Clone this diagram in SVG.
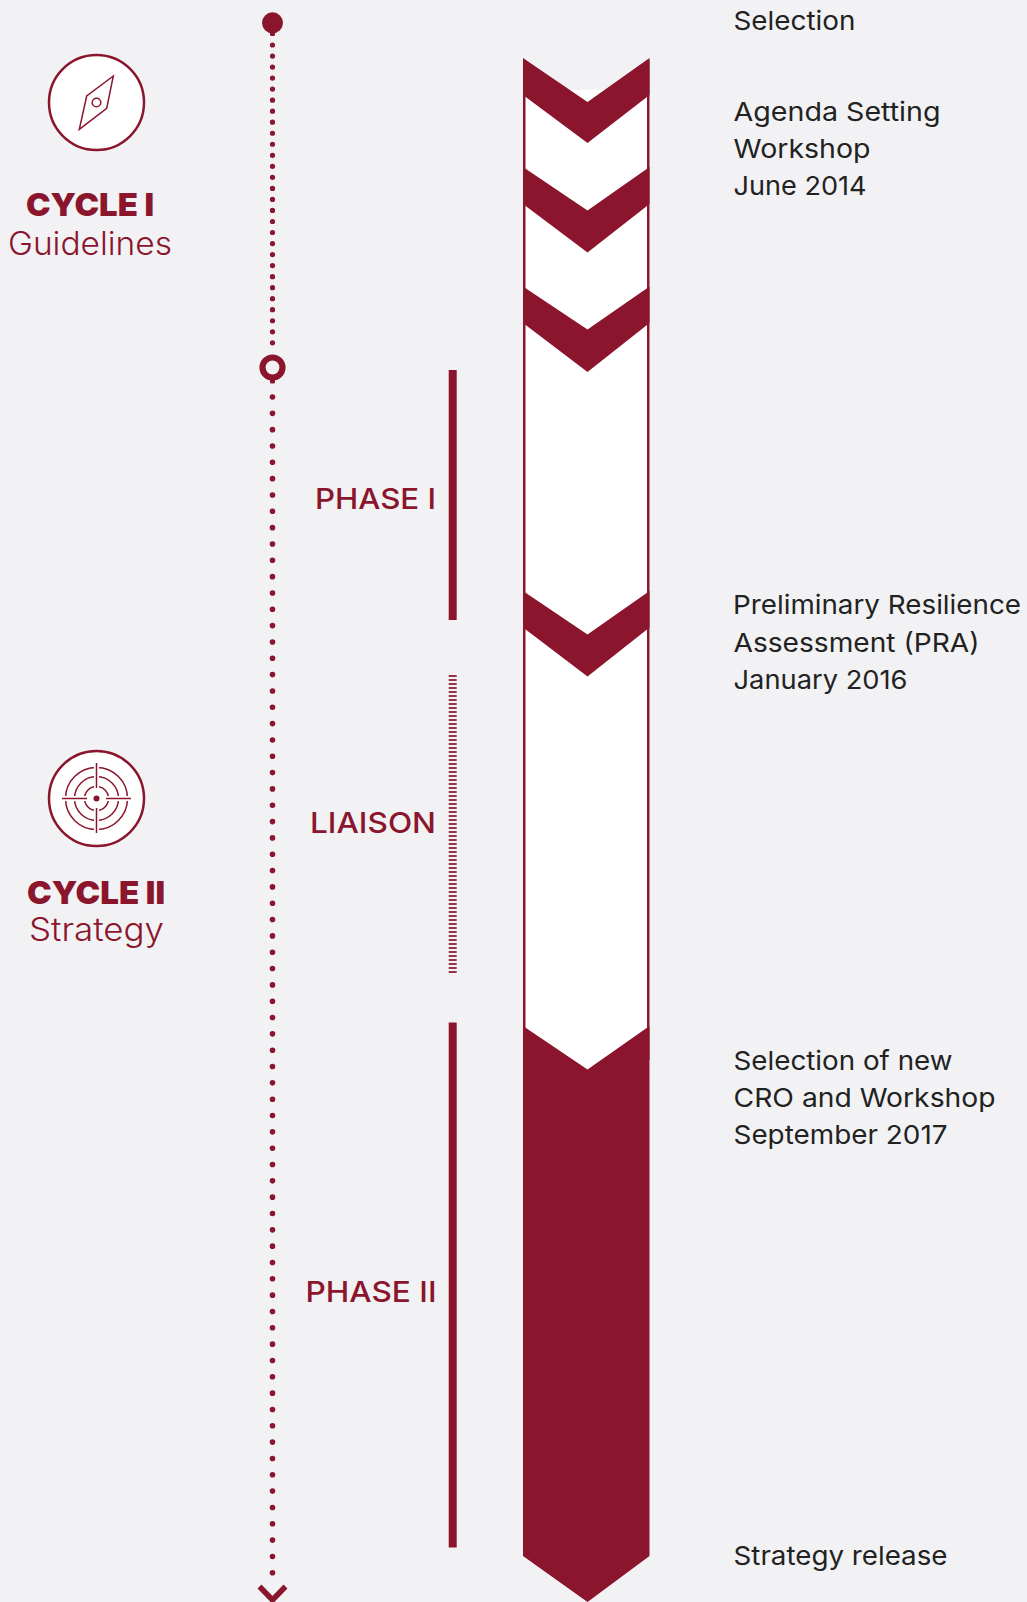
<svg xmlns="http://www.w3.org/2000/svg" width="1027" height="1602" viewBox="0 0 1027 1602">
<style>
.c{fill:#8a152d}
text{font-family:"Inter","Liberation Sans",sans-serif}
.t{fill:#222;font-size:26px}
.r{fill:#8a152d}
.ic{fill:#fff;stroke:#8a152d;stroke-width:2.500}
.ln{fill:none;stroke:#8a152d;stroke-width:1.500}
</style>
<rect width="1027" height="1602" fill="#f2f2f4"/>
<g id="timeline">
<line x1="272.500" y1="45" x2="272.500" y2="344" stroke="#8a152d" stroke-width="5.200" stroke-linecap="round" stroke-dasharray="0 11.030"/>
<line x1="272.500" y1="397" x2="272.500" y2="1589" stroke="#8a152d" stroke-width="5.600" stroke-linecap="round" stroke-dasharray="0 16.330"/>
<circle class="c" cx="272.500" cy="22.800" r="10.500"/>
<rect class="c" x="270" y="30" width="5" height="6" rx="1.500"/>
<circle cx="272.500" cy="367.500" r="10" fill="none" stroke="#8a152d" stroke-width="6.200"/>
<rect class="c" x="270" y="378" width="5" height="5.500" rx="1.500"/>
<polyline points="259.500,1586.500 272.500,1600 285.500,1586.500" fill="none" stroke="#8a152d" stroke-width="5.500"/>
</g>
<g id="bar">
<rect x="523" y="90" width="126.500" height="985" fill="#fff"/>
<rect class="c" x="523" y="60" width="2.500" height="1000"/>
<rect class="c" x="647" y="60" width="2.500" height="1000"/>
<path id="chevron-1" class="c" d="M523 58L587.500 102L649.500 58V95L587.500 143L523 95Z"/>
<path id="chevron-2" class="c" d="M523 167L587.500 210.500L649.500 167V204L587.500 252.500L523 204Z"/>
<path id="chevron-3" class="c" d="M523 286.500L587.500 329.500L649.500 286.500V323L587.500 372L523 323Z"/>
<path id="chevron-4" class="c" d="M523 591L587.500 634.500L649.500 591V627.500L587.500 676.500L523 627.500Z"/>
<path id="bar-end" class="c" d="M523 1026L587.500 1069.500L649.500 1026V1556L587.500 1602L523 1556Z"/>
</g>
<g id="phases">
<rect class="c" x="448.700" y="370" width="8" height="250"/>
<line x1="452.700" y1="675" x2="452.700" y2="973" stroke="#8a152d" stroke-width="8" stroke-dasharray="2 2" opacity=".85"/>
<rect class="c" x="448.700" y="1022.500" width="8" height="525"/>
</g>
<g id="cycle-1">
<circle class="ic" cx="96.500" cy="102.500" r="47.500"/>
<path class="ln" d="M113.300 76L86.700 96L79.300 129.300L106.700 108.300Z"/>
<circle class="ln" cx="96.500" cy="102.500" r="4.300"/>
<text class="r" x="26" y="216" font-size="32" font-weight="900" textLength="128" lengthAdjust="spacingAndGlyphs">CYCLE I</text>
<text class="r" x="8" y="254.500" font-size="32" font-weight="300" textLength="164" lengthAdjust="spacingAndGlyphs">Guidelines</text>
</g>
<g id="cycle-2">
<circle class="ic" cx="96.500" cy="798.500" r="47.500"/>
<circle class="ln" cx="96.500" cy="798.500" r="31"/>
<circle class="ln" cx="96.500" cy="798.500" r="22"/>
<circle class="ln" cx="96.500" cy="798.500" r="12"/>
<path d="M96.500 760V836M58 798.500H135" stroke="#fff" stroke-width="5" fill="none"/>
<path class="ln" d="M96.500 763V788M96.500 808V833M62 798.500H87M106 798.500H131"/>
<circle class="c" cx="96.500" cy="798.500" r="3"/>
<text class="r" x="27" y="904" font-size="32" font-weight="900" textLength="138" lengthAdjust="spacingAndGlyphs">CYCLE II</text>
<text class="r" x="29" y="940.500" font-size="32" font-weight="300" textLength="135" lengthAdjust="spacingAndGlyphs">Strategy</text>
</g>
<g id="labels">
<text class="r" x="315" y="509.300" font-size="29" font-weight="500" textLength="121" lengthAdjust="spacingAndGlyphs">PHASE I</text>
<text class="r" x="310" y="832.700" font-size="29" font-weight="500" textLength="126" lengthAdjust="spacingAndGlyphs">LIAISON</text>
<text class="r" x="305.500" y="1302.300" font-size="29" font-weight="500" textLength="131" lengthAdjust="spacingAndGlyphs">PHASE II</text>
</g>
<g id="milestones">
<text class="t" x="733.500" y="30" textLength="122" lengthAdjust="spacingAndGlyphs">Selection</text>
<text class="t" x="733.500" y="120.700" textLength="207" lengthAdjust="spacingAndGlyphs">Agenda Setting</text>
<text class="t" x="733.500" y="158" textLength="137" lengthAdjust="spacingAndGlyphs">Workshop</text>
<text class="t" x="733.500" y="195.300" textLength="133" lengthAdjust="spacingAndGlyphs">June 2014</text>
<text class="t" x="733" y="614.300" textLength="288" lengthAdjust="spacingAndGlyphs">Preliminary Resilience</text>
<text class="t" x="733.500" y="651.700" textLength="246" lengthAdjust="spacingAndGlyphs">Assessment (PRA)</text>
<text class="t" x="733.500" y="689" textLength="174" lengthAdjust="spacingAndGlyphs">January 2016</text>
<text class="t" x="733.500" y="1070" textLength="219" lengthAdjust="spacingAndGlyphs">Selection of new</text>
<text class="t" x="733.500" y="1106.700" textLength="262" lengthAdjust="spacingAndGlyphs">CRO and Workshop</text>
<text class="t" x="733.500" y="1144" textLength="214" lengthAdjust="spacingAndGlyphs">September 2017</text>
<text class="t" x="733.500" y="1565" textLength="214" lengthAdjust="spacingAndGlyphs">Strategy release</text>
</g>
</svg>
